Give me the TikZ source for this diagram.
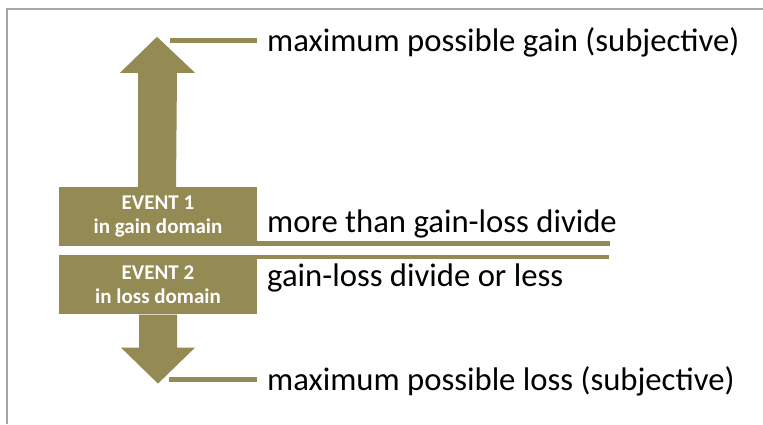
\documentclass[tikz,border=0pt]{standalone}
\usepackage{fontspec}
\setmainfont{Carlito}
\definecolor{olivetan}{RGB}{148,138,84}
\definecolor{framegray}{RGB}{166,166,166}
\usetikzlibrary{positioning, calc}

\begin{document}
\begin{tikzpicture}[
        x=1pt, y=1pt,
        event/.style={fill=olivetan, minimum width=198pt, minimum height=59pt,
                      inner sep=0pt, text=white, align=center,
                      font=\fontsize{21}{23.5}\selectfont\bfseries},
        lbl/.style={anchor=base west, inner sep=0pt, font=\fontsize{32.7}{38}\selectfont},
        lead/.style={olivetan, line width=5pt},
        divline/.style={olivetan, line width=4.5pt}
      ]
        \useasboundingbox (0,0) rectangle (763,424);
        \draw[framegray, line width=2pt] (6.5,0) -- (6.5,415) -- (763,415);

        \node[event] (ev1) at (158,207.5) {EVENT 1\\in gain domain};
        \node[event, below=9pt of ev1] (ev2) {EVENT 2\\in loss domain};

        % arrows
        \fill[olivetan] ($(ev1.north)+(-20,0)$) -- ++(0,114) -- ++(-18,0)
          -- ($(ev1.north)+(-1,150)$) -- ($(ev1.north)+(37,114)$) -- ++(-18,0)
          -- ($(ev1.north)+(18,0)$) -- cycle;
        \fill[olivetan] ($(ev2.south)+(-19,0)$) -- ++(0,-33) -- ++(-18,0)
          -- ($(ev2.south)+(0,-69)$) -- ($(ev2.south)+(37,-33)$) -- ++(-18,0)
          -- ($(ev2.south)+(19,0)$) -- cycle;

        \coordinate (gaintip) at (170,383.2);
        \coordinate (losstip) at (169,44.5);
        \draw[lead] (gaintip) -- (gaintip -| ev1.east);
        \draw[lead] (losstip) -- (losstip -| ev2.east);

        \draw[divline] ($(ev1.south east)+(0,2.5)$) -- ++(353,0);
        \draw[divline] ($(ev2.north east)+(0,-2)$) -- ++(352,0);

        \node[lbl] (gain) at (267,372) {maximum possible gain (subjective)};
        \node[lbl] (above) at (267,192) {more than gain-loss divide};
        \node[lbl] (below) at (267,138) {gain-loss divide or less};
        \node[lbl] (loss) at (267,34) {maximum possible loss (subjective)};
      \end{tikzpicture}
\end{document}
